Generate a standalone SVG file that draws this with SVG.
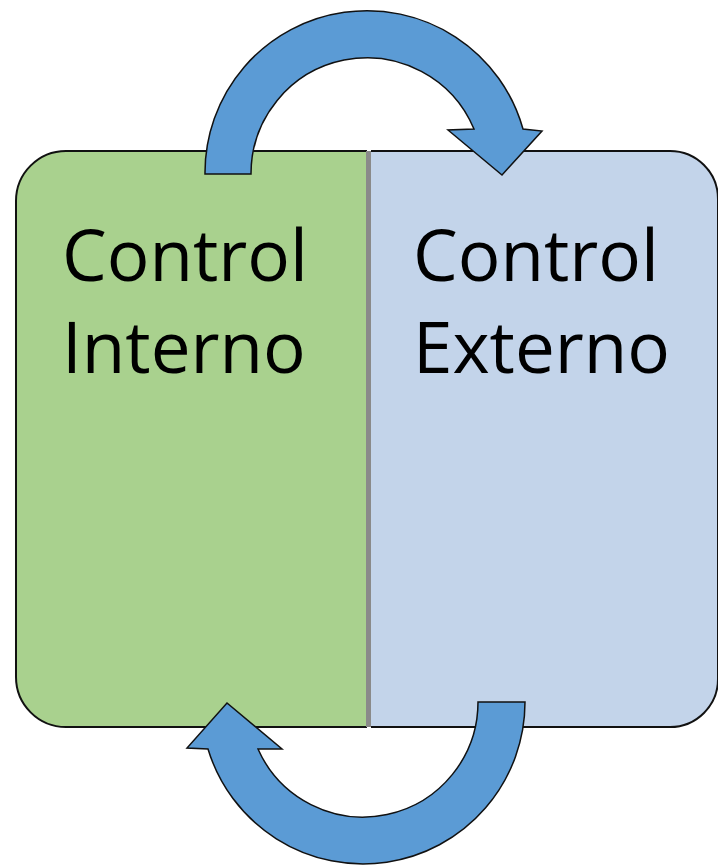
<svg xmlns="http://www.w3.org/2000/svg" width="718" height="865" viewBox="0 0 718 865">
<style>
.box{stroke:#111;stroke-width:2}
.lbl{font-family:"Open Sans","Liberation Sans",sans-serif;font-size:71px;fill:#000}
.arrow{fill:#5B9BD5;stroke:#111;stroke-width:1.5;stroke-linejoin:miter}
</style>
<rect width="718" height="865" fill="#fff"/>
<g id="interno">
<path class="box" fill="#A9D18E" d="M367,151 L66,151 A50,50 0 0 0 16,201 L16,677 A50,50 0 0 0 66,727 L367,727"/>
<text class="lbl" x="62" y="281">Control</text>
<text class="lbl" x="62" y="373">Interno</text>
</g>
<g id="externo">
<path class="box" fill="#C3D4EA" d="M371,151 L670,151 A48,48 0 0 1 718,199 L718,679 A48,48 0 0 1 670,727 L371,727"/>
<text class="lbl" x="413" y="281">Control</text>
<text class="lbl" x="413" y="373">Externo</text>
</g>
<rect id="divider" x="366" y="151" width="5" height="576" fill="#8a8a8a"/>
<g id="connectors">
<path class="arrow" d="M205,174 A162,162 0 0 1 523,129 L542,131 L502,175 L448,130 L474,129 A116,116 0 0 0 251,174 Z"/>
<path class="arrow" d="M525,702 A162,162 0 0 1 208,749 L187,748 L227,703 L282,749 L258,749 A115,115 0 0 0 478,702 Z"/>
</g>
</svg>
